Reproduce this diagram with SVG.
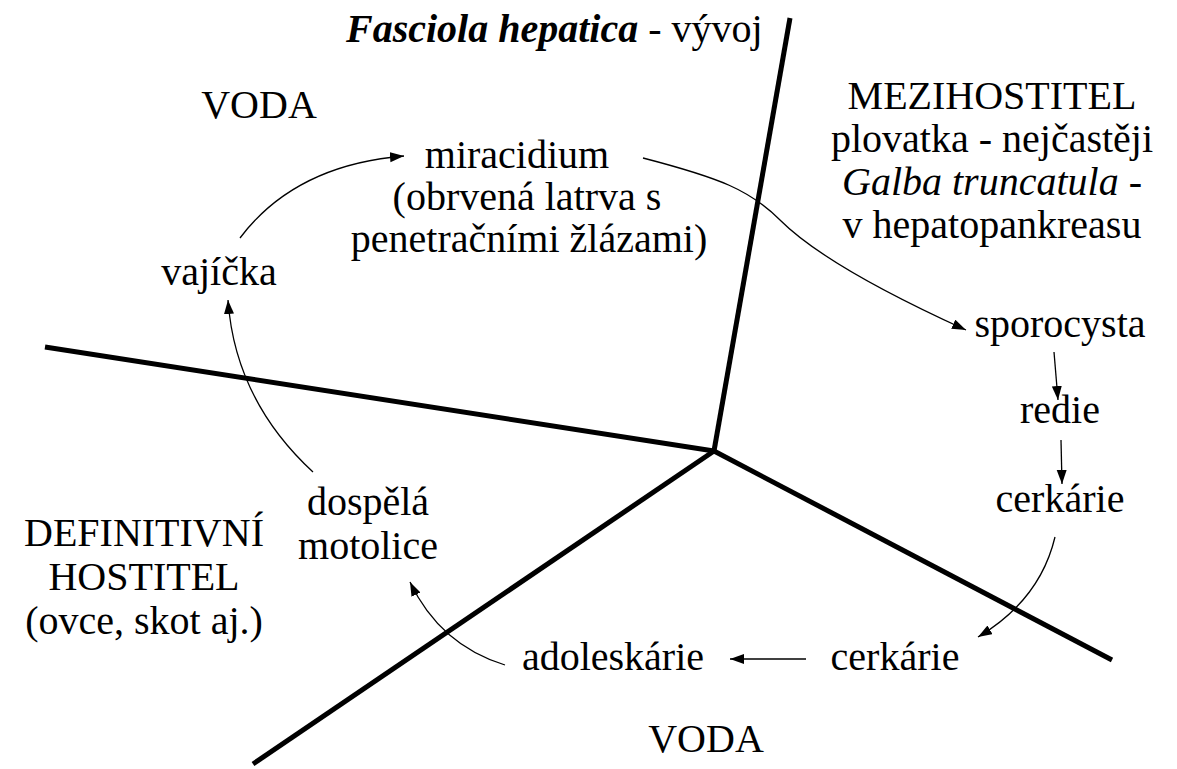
<svg xmlns="http://www.w3.org/2000/svg" width="1177" height="769" viewBox="0 0 1177 769">
<defs>
<marker id="ah" markerUnits="userSpaceOnUse" markerWidth="16" markerHeight="12" refX="14" refY="5" orient="auto">
<path d="M0,0 L14,5 L0,10 Z" fill="#000"/>
</marker>
</defs>
<rect width="1177" height="769" fill="#fff"/>
<g id="boundaries" stroke="#000" stroke-width="5" fill="none">
<path d="M790,18 L714,451"/>
<path d="M45,347 L714,451"/>
<path d="M714,451 L253,764"/>
<path d="M714,451 L1112,660"/>
</g>
<g font-family="Times New Roman, Liberation Serif, Tinos, serif" font-size="40">
<g id="title"><text font-family="Times New Roman, Liberation Serif, serif" x="346" y="42"><tspan font-weight="bold" font-style="italic">Fasciola hepatica</tspan> - vývoj</text></g>
<g id="voda-top"><text font-family="Times New Roman, Liberation Serif, serif" text-anchor="middle" x="259" y="118">VODA</text></g>
<g id="mezihostitel"><text font-family="Times New Roman, Liberation Serif, serif" text-anchor="middle" x="992" y="109">MEZIHOSTITEL</text><text font-family="Times New Roman, Liberation Serif, serif" text-anchor="middle" x="992" y="152">plovatka - nejčastěji</text><text font-family="Times New Roman, Liberation Serif, serif" text-anchor="middle" x="992" y="195"><tspan font-style="italic">Galba truncatula</tspan> -</text><text font-family="Times New Roman, Liberation Serif, serif" text-anchor="middle" x="992" y="238">v hepatopankreasu</text></g>
<g id="definitivni"><text font-family="Times New Roman, Liberation Serif, serif" text-anchor="middle" x="144" y="546">DEFINITIVNÍ</text><text font-family="Times New Roman, Liberation Serif, serif" text-anchor="middle" x="144" y="590">HOSTITEL</text><text font-family="Times New Roman, Liberation Serif, serif" text-anchor="middle" x="144" y="634">(ovce, skot aj.)</text></g>
<g id="voda-bottom"><text font-family="Times New Roman, Liberation Serif, serif" text-anchor="middle" x="706" y="752">VODA</text></g>
<g id="miracidium"><text font-family="Times New Roman, Liberation Serif, serif" text-anchor="middle" x="517" y="168">miracidium</text><text font-family="Times New Roman, Liberation Serif, serif" text-anchor="middle" x="527" y="210">(obrvená latrva s</text><text font-family="Times New Roman, Liberation Serif, serif" text-anchor="middle" x="529" y="252">penetračními žlázami)</text></g>
<g id="vajicka"><text font-family="Times New Roman, Liberation Serif, serif" text-anchor="middle" x="219" y="285">vajíčka</text></g>
<g id="sporocysta"><text font-family="Times New Roman, Liberation Serif, serif" text-anchor="middle" x="1060" y="337">sporocysta</text></g>
<g id="redie"><text font-family="Times New Roman, Liberation Serif, serif" text-anchor="middle" x="1060" y="423">redie</text></g>
<g id="cerkarie1"><text font-family="Times New Roman, Liberation Serif, serif" text-anchor="middle" x="1060" y="512">cerkárie</text></g>
<g id="cerkarie2"><text font-family="Times New Roman, Liberation Serif, serif" text-anchor="middle" x="895" y="670">cerkárie</text></g>
<g id="adoleskarie"><text font-family="Times New Roman, Liberation Serif, serif" text-anchor="middle" x="613" y="670">adoleskárie</text></g>
<g id="dospela"><text font-family="Times New Roman, Liberation Serif, serif" text-anchor="middle" x="368" y="515">dospělá</text><text font-family="Times New Roman, Liberation Serif, serif" text-anchor="middle" x="368" y="559">motolice</text></g>
</g>
<g id="connectors" stroke="#000" stroke-width="1.3" fill="none">
<path marker-end="url(#ah)" d="M240,238 Q295,165 404,156"/>
<path marker-end="url(#ah)" d="M313,472 Q235,400 228,300"/>
<path marker-end="url(#ah)" d="M643,158 C720,178 750,190 780,220 C820,260 900,300 966,330"/>
<path marker-end="url(#ah)" d="M1054,352 L1058,400"/>
<path marker-end="url(#ah)" d="M1061,440 L1062,484"/>
<path marker-end="url(#ah)" d="M1055,537 Q1040,600 978,637"/>
<path marker-end="url(#ah)" d="M806,659 L730,659"/>
<path marker-end="url(#ah)" d="M505,665 Q440,645 410,582"/>
</g>
</svg>
